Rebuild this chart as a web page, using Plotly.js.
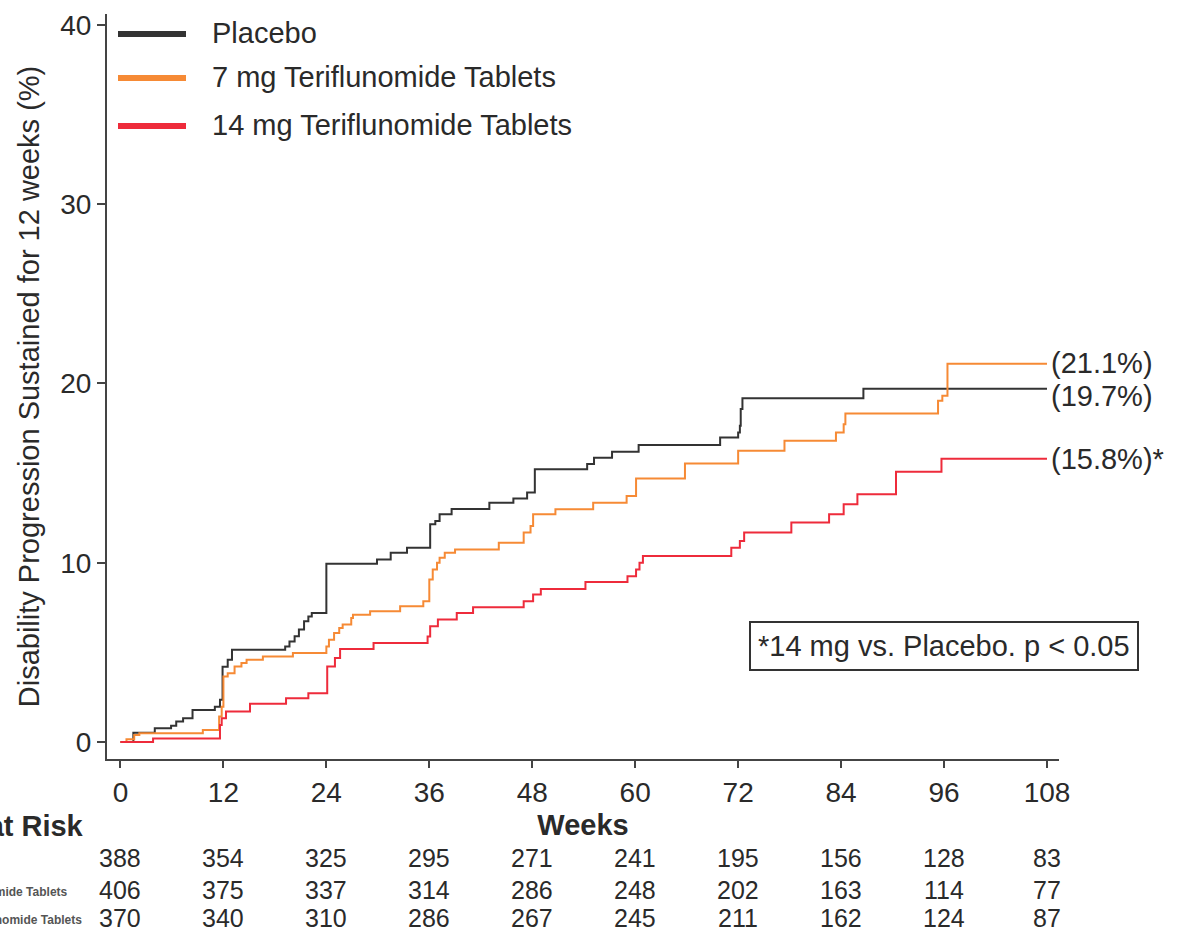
<!DOCTYPE html>
<html>
<head>
<meta charset="utf-8">
<script src="https://cdn.plot.ly/plotly-3.0.1.min.js"></script>
<style>html,body{margin:0;padding:0;background:#fff;}#chart{width:1181px;height:928px;}</style>
</head>
<body>
<div id="chart"></div>
<script>
// ---- Data ----
const seriesNames = ["Placebo", "7 mg Teriflunomide Tablets", "14 mg Teriflunomide Tablets"];
const seriesColors = ["#333333", "#f68a35", "#ee2b3b"];

const placeboWeeks = [0, 1.5, 4.0, 5.9, 6.5, 7.3, 8.4, 11.0, 11.6, 11.9, 12.5, 13.0, 19.2, 19.7, 20.3, 20.8, 21.4, 21.9, 22.3, 24.0, 29.9, 31.5, 33.4, 36.1, 36.7, 37.2, 38.6, 43.0, 45.8, 47.4, 48.3, 54.4, 55.2, 57.3, 60.4, 69.9, 72.0, 72.2, 72.3, 72.5, 86.6, 108];
const placeboPct   = [0, 0.52, 0.76, 0.91, 1.14, 1.32, 1.79, 1.97, 2.35, 4.2, 4.59, 5.15, 5.33, 5.6, 5.9, 6.27, 6.73, 7.0, 7.2, 9.94, 10.18, 10.55, 10.83, 12.14, 12.33, 12.7, 13.0, 13.35, 13.58, 13.91, 15.22, 15.5, 15.85, 16.19, 16.56, 16.99, 17.27, 17.64, 18.57, 19.17, 19.7, 19.7];

const mg7Weeks = [0, 0.7, 1.6, 2.2, 9.6, 11.5, 11.8, 12.0, 12.5, 13.3, 14.1, 14.7, 16.6, 20.1, 24.0, 24.3, 24.9, 25.5, 25.9, 26.9, 27.1, 29.1, 32.6, 35.3, 36.0, 36.4, 36.9, 37.2, 37.8, 39.0, 44.1, 47.0, 47.8, 48.1, 50.7, 55.1, 59.0, 60.1, 65.8, 72.0, 77.4, 83.4, 84.3, 84.5, 95.3, 95.8, 96.4, 108];
const mg7Pct   = [0, 0.15, 0.39, 0.48, 0.67, 1.42, 1.97, 3.65, 3.84, 4.21, 4.4, 4.59, 4.77, 4.96, 5.33, 5.7, 6.08, 6.36, 6.55, 6.92, 7.1, 7.29, 7.57, 7.85, 9.06, 9.62, 10.0, 10.28, 10.55, 10.74, 11.12, 11.68, 12.05, 12.7, 12.98, 13.35, 13.72, 14.7, 15.53, 16.24, 16.8, 17.27, 17.73, 18.33, 19.04, 19.32, 21.1, 21.1];

const mg14Weeks = [0, 3.8, 11.6, 11.8, 12.3, 15.1, 19.3, 21.9, 24.1, 25.0, 25.6, 29.5, 35.8, 36.1, 37.0, 39.2, 41.1, 47.0, 48.1, 49.0, 54.2, 59.1, 60.1, 60.5, 60.9, 71.2, 72.2, 72.7, 78.2, 82.6, 84.3, 85.9, 90.4, 95.7, 108];
const mg14Pct   = [0, 0.2, 0.95, 1.32, 1.7, 2.13, 2.44, 2.72, 4.21, 4.68, 5.19, 5.52, 5.89, 6.45, 6.83, 7.2, 7.51, 7.85, 8.22, 8.54, 8.92, 9.25, 9.62, 10.0, 10.37, 10.84, 11.21, 11.68, 12.24, 12.7, 13.26, 13.82, 15.07, 15.8, 15.8];

const endLabels = ["(19.7%)", "(21.1%)", "(15.8%)*"];
const endValues = [19.7, 21.1, 15.8];

const xTicks = [0, 12, 24, 36, 48, 60, 72, 84, 96, 108];
const yTicks = [0, 10, 20, 30, 40];
const atRiskPlacebo = [388, 354, 325, 295, 271, 241, 195, 156, 128, 83];
const atRisk7mg     = [406, 375, 337, 314, 286, 248, 202, 163, 114, 77];
const atRisk14mg    = [370, 340, 310, 286, 267, 245, 211, 162, 124, 87];

const yTitle = "Disability Progression Sustained for 12 weeks (%)";
const xTitle = "Weeks";
const atRiskTitle = "Number at Risk";
const noteText = "*14 mg vs. Placebo. p < 0.05";

// ---- Build ----
const FONT = "Liberation Sans, Arial, sans-serif";
const TXT = "#2a2a2a";
const xs = [placeboWeeks, mg7Weeks, mg14Weeks];
const ys = [placeboPct, mg7Pct, mg14Pct];

const traces = xs.map((x, i) => ({
  type: "scatter", mode: "lines", x: x, y: ys[i], name: seriesNames[i],
  line: {shape: "hv", color: seriesColors[i], width: 2}, showlegend: false, hoverinfo: "skip"
}));

const W = 952, H = 745, L = 107, T = 14;
const px = v => (v - L) / W;
const py = v => (T + H - v) / H;

const annotations = [];
const shapes = [];

// custom legend
const legY = [34, 78, 126];
seriesNames.forEach((n, i) => {
  shapes.push({type: "line", xref: "paper", yref: "paper", x0: px(118), x1: px(186), y0: py(legY[i]), y1: py(legY[i]),
    line: {color: seriesColors[i], width: 6}});
  annotations.push({xref: "paper", yref: "paper", x: px(210), y: py(legY[i] - 1), xanchor: "left", yanchor: "middle",
    text: n, showarrow: false, font: {family: FONT, size: 29, color: TXT}});
});

// end labels
const endShift = [-7, 1, 0];
endLabels.forEach((t, i) => {
  annotations.push({xref: "x", yref: "y", x: 108, y: endValues[i], xanchor: "left", yanchor: "middle", xshift: 2, yshift: endShift[i],
    text: t, showarrow: false, font: {family: FONT, size: 29, color: TXT}});
});

// note box
annotations.push({xref: "x", yref: "y", x: 96.05, y: 5.33, xanchor: "center", yanchor: "middle",
  text: noteText, showarrow: false, font: {family: FONT, size: 29, color: TXT},
  bordercolor: "#333", borderwidth: 2, borderpad: 7, bgcolor: "#fff"});

// at risk table
annotations.push({xref: "paper", yref: "paper", x: px(86), y: py(826), xanchor: "right", yanchor: "middle",
  text: "<b>" + atRiskTitle + "</b>", showarrow: false, font: {family: FONT, size: 29, color: TXT}});
const rowsY = [858, 890, 918];
const rowLabelRight = [-30, 70, 84];
const rows = [atRiskPlacebo, atRisk7mg, atRisk14mg];
rows.forEach((r, ri) => {
  annotations.push({xref: "paper", yref: "paper", x: px(rowLabelRight[ri]), y: py(rowsY[ri] + 2), xanchor: "right", yanchor: "middle",
    text: "<b>" + seriesNames[ri] + "</b>", showarrow: false, font: {family: FONT, size: 12, color: "#555"}});
  r.forEach((v, j) => {
    annotations.push({xref: "x", yref: "paper", x: xTicks[j], y: py(rowsY[ri]), xanchor: "center", yanchor: "middle",
      text: String(v), showarrow: false, font: {family: FONT, size: 25, color: TXT}});
  });
});

const layout = {
  width: 1181, height: 928,
  margin: {l: L, r: 1181 - L - W, t: T, b: 928 - T - H},
  paper_bgcolor: "#fff", plot_bgcolor: "#fff",
  showlegend: false,
  font: {family: FONT, color: TXT},
  xaxis: {
    range: [-1.57, 109.4], tickmode: "array", tickvals: xTicks, ticktext: xTicks.map(String),
    showgrid: false, zeroline: false, showline: true, linecolor: "#444", linewidth: 2,
    ticks: "outside", ticklen: 7, tickwidth: 2, tickcolor: "#444",
    tickfont: {family: FONT, size: 28, color: TXT},
    title: {text: "<b>" + xTitle + "</b>", font: {family: FONT, size: 29, color: TXT}, standoff: 8},
    automargin: false
  },
  yaxis: {
    range: [-0.95, 40.61], tickmode: "array", tickvals: yTicks, ticktext: yTicks.map(String),
    showgrid: false, zeroline: false, showline: true, linecolor: "#444", linewidth: 2,
    ticks: "outside", ticklen: 8, tickwidth: 2, tickcolor: "#444",
    tickfont: {family: FONT, size: 28, color: TXT},
    title: {text: yTitle, font: {family: FONT, size: 29, color: TXT}, standoff: 12},
    automargin: false
  },
  shapes: shapes,
  annotations: annotations
};

Plotly.newPlot("chart", traces, layout, {staticPlot: true, displayModeBar: false});
</script>
</body>
</html>
